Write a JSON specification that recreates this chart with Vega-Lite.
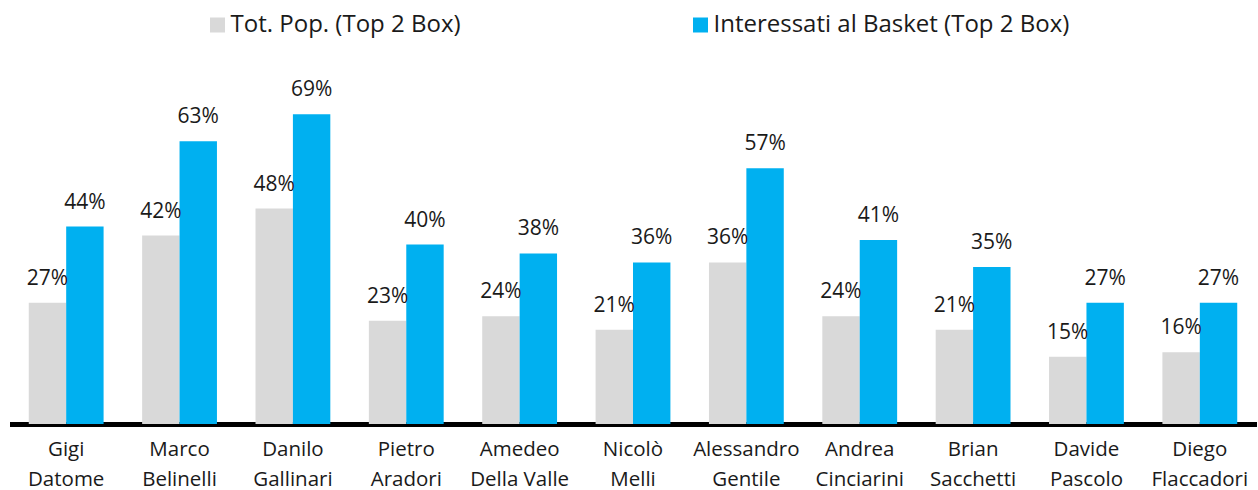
{
  "$schema": "https://vega.github.io/schema/vega-lite/v6.json",
  "autosize": {"type": "none"},
  "padding": {"left": 9.5, "top": 65, "right": 0, "bottom": 66},
  "width": 1247,
  "height": 359,
  "background": "white",
  "config": {
    "view": {"stroke": null},
    "font": "Open Sans"
  },
  "data": {
    "values": [
      {"name": "Gigi|Datome", "series": "Tot. Pop. (Top 2 Box)", "value": 27},
      {"name": "Gigi|Datome", "series": "Interessati al Basket (Top 2 Box)", "value": 44},
      {"name": "Marco|Belinelli", "series": "Tot. Pop. (Top 2 Box)", "value": 42},
      {"name": "Marco|Belinelli", "series": "Interessati al Basket (Top 2 Box)", "value": 63},
      {"name": "Danilo|Gallinari", "series": "Tot. Pop. (Top 2 Box)", "value": 48},
      {"name": "Danilo|Gallinari", "series": "Interessati al Basket (Top 2 Box)", "value": 69},
      {"name": "Pietro|Aradori", "series": "Tot. Pop. (Top 2 Box)", "value": 23},
      {"name": "Pietro|Aradori", "series": "Interessati al Basket (Top 2 Box)", "value": 40},
      {"name": "Amedeo|Della Valle", "series": "Tot. Pop. (Top 2 Box)", "value": 24},
      {"name": "Amedeo|Della Valle", "series": "Interessati al Basket (Top 2 Box)", "value": 38},
      {"name": "Nicolò|Melli", "series": "Tot. Pop. (Top 2 Box)", "value": 21},
      {"name": "Nicolò|Melli", "series": "Interessati al Basket (Top 2 Box)", "value": 36},
      {"name": "Alessandro|Gentile", "series": "Tot. Pop. (Top 2 Box)", "value": 36},
      {"name": "Alessandro|Gentile", "series": "Interessati al Basket (Top 2 Box)", "value": 57},
      {"name": "Andrea|Cinciarini", "series": "Tot. Pop. (Top 2 Box)", "value": 24},
      {"name": "Andrea|Cinciarini", "series": "Interessati al Basket (Top 2 Box)", "value": 41},
      {"name": "Brian|Sacchetti", "series": "Tot. Pop. (Top 2 Box)", "value": 21},
      {"name": "Brian|Sacchetti", "series": "Interessati al Basket (Top 2 Box)", "value": 35},
      {"name": "Davide|Pascolo", "series": "Tot. Pop. (Top 2 Box)", "value": 15},
      {"name": "Davide|Pascolo", "series": "Interessati al Basket (Top 2 Box)", "value": 27},
      {"name": "Diego|Flaccadori", "series": "Tot. Pop. (Top 2 Box)", "value": 16},
      {"name": "Diego|Flaccadori", "series": "Interessati al Basket (Top 2 Box)", "value": 27}
    ]
  },
  "transform": [{"calculate": "datum.value + '%'", "as": "label"}],
  "encoding": {
    "x": {
      "field": "name", "type": "nominal", "sort": null, "title": null,
      "scale": {"paddingInner": 0.34, "paddingOuter": 0.17},
      "axis": {
        "labelExpr": "split(datum.value, '|')",
        "labelAngle": 0,
        "labelFontSize": 20.5,
        "labelLineHeight": 30,
        "labelColor": "#1a1a1a",
        "labelPadding": 15,
        "labelFont": "Open Sans",
        "ticks": false,
        "domainColor": "#000000",
        "domainWidth": 5,
        "grid": false
      }
    },
    "xOffset": {"field": "series", "type": "nominal", "sort": ["Tot. Pop. (Top 2 Box)", "Interessati al Basket (Top 2 Box)"], "scale": {"paddingInner": 0, "paddingOuter": 0}},
    "y": {
      "field": "value", "type": "quantitative",
      "scale": {"domain": [0, 80]},
      "axis": null
    }
  },
  "layer": [
    {
      "mark": {"type": "bar"},
      "encoding": {
        "color": {
          "field": "series", "type": "nominal",
          "sort": ["Tot. Pop. (Top 2 Box)", "Interessati al Basket (Top 2 Box)"],
          "scale": {"domain": ["Tot. Pop. (Top 2 Box)", "Interessati al Basket (Top 2 Box)"], "range": ["#D9D9D9", "#00B0F0"]},
          "legend": {
            "title": null,
            "orient": "none",
            "direction": "horizontal",
            "legendX": 196,
            "legendY": -52,
            "symbolType": "square",
            "symbolSize": 225,
            "labelFontSize": 24,
            "labelFont": "Open Sans",
            "labelColor": "#1a1a1a",
            "labelOffset": 1,
            "columnPadding": 227,
            "labelLimit": 600
          }
        }
      }
    },
    {
      "mark": {"type": "text", "baseline": "alphabetic", "dy": -18, "fontSize": 21, "font": "Open Sans", "color": "#1a1a1a"},
      "encoding": {
        "text": {"field": "label", "type": "nominal"},
        "detail": {"field": "series"}
      }
    }
  ]
}
